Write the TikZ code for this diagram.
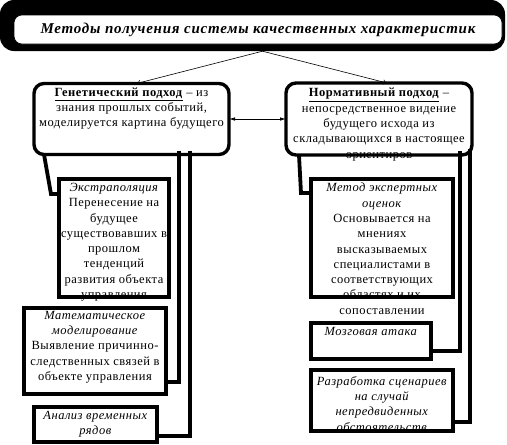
\documentclass[tikz,border=0pt]{standalone}
\usepackage{fontspec}
\setmainfont{Liberation Serif}
\usetikzlibrary{arrows.meta}
\pgfdeclarelayer{fg}
\pgfsetlayers{main,fg}
\begin{document}
\begin{tikzpicture}[x=1pt,y=-1pt,
  box/.style={draw, line width=4pt, inner sep=0pt, outer sep=0pt},
  rbox/.style={box, line width=3.4pt, rounded corners=10pt},
  txt/.style={align=center, inner sep=0pt, anchor=north,
    font=\fontsize{12.5}{15.3}\selectfont\addfontfeatures{LetterSpace=4}},
  conn/.style={line width=3.8pt},
  thinarrow/.style={line width=0.6pt, -{To[length=4pt,width=5pt]}},
  dblarrow/.style={line width=0.8pt, {Latex[length=6pt,width=3.5pt]}-{Latex[length=6pt,width=3.5pt]}}
]
\useasboundingbox (0,0) rectangle (507,445);

% title
\node[fill=black, rounded corners=14pt, minimum width=505pt, minimum height=51pt, inner sep=0pt] (tshadow) at (252.5,25.5) {};
\node[fill=white, draw=black, line width=0.6pt, rounded corners=8pt, minimum width=488pt, minimum height=29pt, inner sep=0pt,
  font=\fontsize{15}{17}\selectfont\bfseries\itshape\addfontfeatures{LetterSpace=5}] (title) at (258,29.5)
  {Методы получения системы качественных характеристик};

\begin{pgfonlayer}{fg}
\node[rbox, minimum width=195pt, minimum height=71pt] (gen) at (131.5,119) {};
\node[rbox, minimum width=186pt, minimum height=72pt] (norm) at (379,119) {};
\node[box, minimum width=110pt, minimum height=118pt] (extr) at (114,238) {};
\node[box, minimum width=142pt, minimum height=86pt] (math) at (95,351) {};
\node[box, minimum width=123pt, minimum height=35pt] (anal) at (95.5,424.5) {};
\node[box, minimum width=142pt, minimum height=118pt] (expert) at (382,238) {};
\node[box, minimum width=120pt, minimum height=36pt] (brain) at (371,341) {};
\node[box, minimum width=142pt, minimum height=61pt] (scen) at (382,400.5) {};
\end{pgfonlayer}

% texts
\node[txt] (gent) at ([yshift=-4pt]gen.north)
  {\underline{\textbf{Генетический подход}} – из\\знания прошлых событий,\\моделируется картина будущего};
\node[txt] (normt) at ([yshift=-5pt]norm.north)
  {\underline{\textbf{Нормативный подход}} –\\непосредственное видение\\будущего исхода из\\складывающихся в настоящее\\ориентиров};
\node[txt] (extrt) at ([yshift=-4pt]extr.north)
  {\textit{Экстраполяция}\\Перенесение на\\будущее\\существовавших в\\прошлом\\тенденций\\развития объекта\\управления};
\node[txt] (matht) at ([yshift=-3pt]math.north)
  {\textit{Математическое}\\\textit{моделирование}\\Выявление причинно-\\следственных связей в\\объекте управления};
\node[txt] (analt) at ([yshift=-4pt]anal.north)
  {\textit{Анализ временных}\\\textit{рядов}};
\node[txt] (expertt) at ([yshift=-4pt]expert.north)
  {\textit{Метод экспертных}\\\textit{оценок}\\Основывается на\\мнениях\\высказываемых\\специалистами в\\соответствующих\\областях и их\\сопоставлении};
\node[txt] (braint) at ([yshift=-4pt]brain.north)
  {\textit{Мозговая атака}};
\node[txt] (scent) at ([yshift=-6pt]scen.north)
  {\textit{Разработка сценариев}\\\textit{на случай}\\\textit{непредвиденных}\\\textit{обстоятельств}};

% connectors
\draw[thinarrow] ([xshift=10pt]tshadow.south) -- ([xshift=5pt]gen.north);
\draw[thinarrow] ([xshift=10pt]tshadow.south) -- ([xshift=8pt]norm.north);
\draw[dblarrow] (gen.east) -- (norm.east -| norm.west);

\draw[conn] ([xshift=10pt]gen.south west) -- ([xshift=-8pt,yshift=-15pt]extr.north west) -- ([yshift=-15pt]extr.north west);
\draw[conn] ([xshift=-50pt,yshift=4pt]gen.south east) |- ([yshift=12pt]math.south east);
\draw[conn] ([xshift=-39pt,yshift=4pt]gen.south east) |- ([yshift=6pt]anal.south east);

\draw[conn] ([xshift=13pt]norm.south west) -- ([xshift=-10pt,yshift=-14pt]expert.north west) -- ([yshift=-14pt]expert.north west);
\draw[conn] ([xshift=-12pt,yshift=4pt]norm.south east) |- ([yshift=8pt]brain.south east);
\draw[conn] ([xshift=-2pt,yshift=6pt]norm.south east) |- ([yshift=9pt]scen.south east);
\end{tikzpicture}
\end{document}
